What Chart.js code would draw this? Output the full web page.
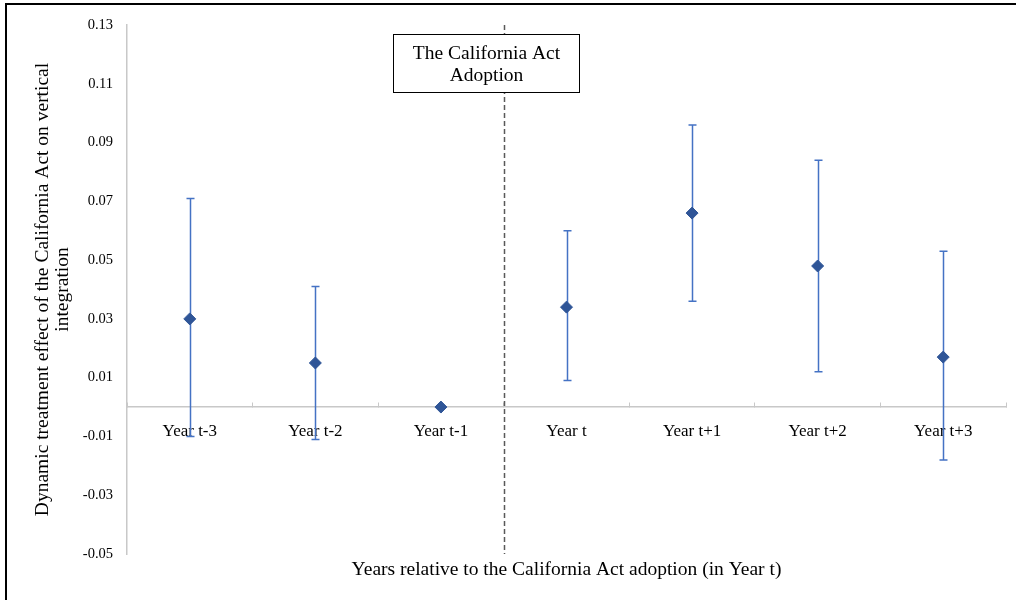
<!DOCTYPE html>
<html>
<head>
<meta charset="utf-8">
<script src="https://cdn.jsdelivr.net/npm/chart.js@4/dist/chart.umd.min.js"></script>
<style>
  html, body { margin: 0; padding: 0; background: #ffffff; }
  #wrap { position: relative; width: 1016px; height: 600px; overflow: hidden; }
  #frame { position: absolute; left: 5px; top: 3px; width: 1100px; height: 700px;
           border-left: 2px solid #000; border-top: 2px solid #000; }
  #c { position: absolute; left: 0; top: 0; }
</style>
</head>
<body>
<div id="wrap">
  <div id="frame"></div>
  <canvas id="c" width="1016" height="600"></canvas>
</div>
<script>
// Event-study estimates with 95% confidence bounds
const categories = ['Year t-3', 'Year t-2', 'Year t-1', 'Year t', 'Year t+1', 'Year t+2', 'Year t+3'];
const estimates  = [0.030, 0.015, 0.000, 0.034, 0.066, 0.048, 0.017];
const ciLower    = [-0.010, -0.011, null, 0.009, 0.036, 0.012, -0.018];
const ciUpper    = [0.071, 0.041, null, 0.060, 0.096, 0.084, 0.053];

// Value axis range and step
const yMin = -0.05;
const yMax = 0.13;
const yStep = 0.02;

const yTitle = ['Dynamic treatment effect of the California Act on vertical', 'integration'];
const xTitle = 'Years relative to the California Act adoption (in Year t)';
const boxLines = ['The California Act', 'Adoption'];
const adoptionBoundary = 2.5; // between Year t-1 and Year t

const SERIF = "'Liberation Serif', 'Times New Roman', serif";

// Vertical confidence-interval whiskers with caps
const errorBars = {
  id: 'errorBars',
  beforeDatasetsDraw(chart) {
    const { ctx, scales: { x, y } } = chart;
    ctx.save();
    ctx.strokeStyle = '#4472C4';
    ctx.lineWidth = 1.5;
    for (let i = 0; i < categories.length; i++) {
      if (ciLower[i] === null || ciUpper[i] === null) continue;
      const px = Math.round(x.getPixelForValue(i)) + 0.5;
      const top = y.getPixelForValue(ciUpper[i]);
      const bot = y.getPixelForValue(ciLower[i]);
      ctx.beginPath();
      ctx.moveTo(px, top); ctx.lineTo(px, bot);
      ctx.moveTo(px - 4, top); ctx.lineTo(px + 4, top);
      ctx.moveTo(px - 4, bot); ctx.lineTo(px + 4, bot);
      ctx.stroke();
    }
    ctx.restore();
  }
};

// Adoption marker line, its label box and the horizontal axis title
const decorations = {
  id: 'decorations',
  afterDraw(chart) {
    const { ctx, chartArea, scales: { x } } = chart;
    ctx.save();
    // dashed adoption line
    const bx = Math.round(x.getPixelForValue(adoptionBoundary)) + 0.5;
    ctx.strokeStyle = '#595959';
    ctx.lineWidth = 1.5;
    ctx.setLineDash([5, 3]);
    ctx.beginPath();
    ctx.moveTo(bx, chartArea.top);
    ctx.lineTo(bx, chartArea.bottom);
    ctx.stroke();
    ctx.setLineDash([]);

    // label box
    ctx.fillStyle = '#ffffff';
    ctx.fillRect(393, 34, 187, 59);
    ctx.strokeStyle = '#000000';
    ctx.lineWidth = 1;
    ctx.strokeRect(393.5, 34.5, 186, 58);
    ctx.fillStyle = '#000000';
    ctx.font = '19.5px ' + SERIF;
    ctx.textAlign = 'center';
    ctx.textBaseline = 'alphabetic';
    ctx.fillText(boxLines[0], 486.5, 59);
    ctx.fillText(boxLines[1], 486.5, 81);

    // horizontal axis title
    ctx.fillText(xTitle, (chartArea.left + chartArea.right) / 2, 575);
    ctx.restore();
  }
};

new Chart(document.getElementById('c'), {
  type: 'line',
  data: {
    labels: categories,
    datasets: [{
      data: estimates,
      showLine: false,
      pointStyle: 'rectRot',
      pointRadius: 6,
      pointBorderWidth: 1,
      pointBackgroundColor: '#2F5597',
      pointBorderColor: '#2F5597'
    }]
  },
  plugins: [errorBars, decorations],
  options: {
    responsive: false,
    devicePixelRatio: 1,
    animation: false,
    events: [],
    layout: { padding: { top: 25, bottom: 46, right: 10, left: 0 } },
    plugins: { legend: { display: false }, tooltip: { enabled: false }, title: { display: false } },
    scales: {
      x: {
        type: 'category',
        position: { y: 0 },
        offset: true,
        grid: {
          display: true,
          offset: true,
          drawOnChartArea: false,
          drawTicks: true,
          tickLength: -5,
          tickColor: '#C8C8C8',
          tickWidth: 1
        },
        border: { display: true, color: '#C8C8C8', width: 1.5 },
        ticks: {
          color: '#000000',
          padding: 19,
          autoSkip: false,
          maxRotation: 0,
          font: { family: SERIF, size: 17 }
        }
      },
      y: {
        min: yMin,
        max: yMax,
        afterFit(scale) { scale.width = 127; },
        grid: { display: true, drawOnChartArea: false, drawTicks: false },
        border: { display: true, color: '#C8C8C8', width: 1.5 },
        ticks: {
          stepSize: yStep,
          padding: 14,
          color: '#000000',
          font: { family: SERIF, size: 14.5 },
          callback: (v) => Number(v).toFixed(2)
        },
        title: {
          display: true,
          text: yTitle,
          color: '#000000',
          font: { family: SERIF, size: 19.5, lineHeight: 1.03 },
          padding: { top: 33, bottom: 0 }
        }
      }
    }
  }
});
</script>
</body>
</html>
